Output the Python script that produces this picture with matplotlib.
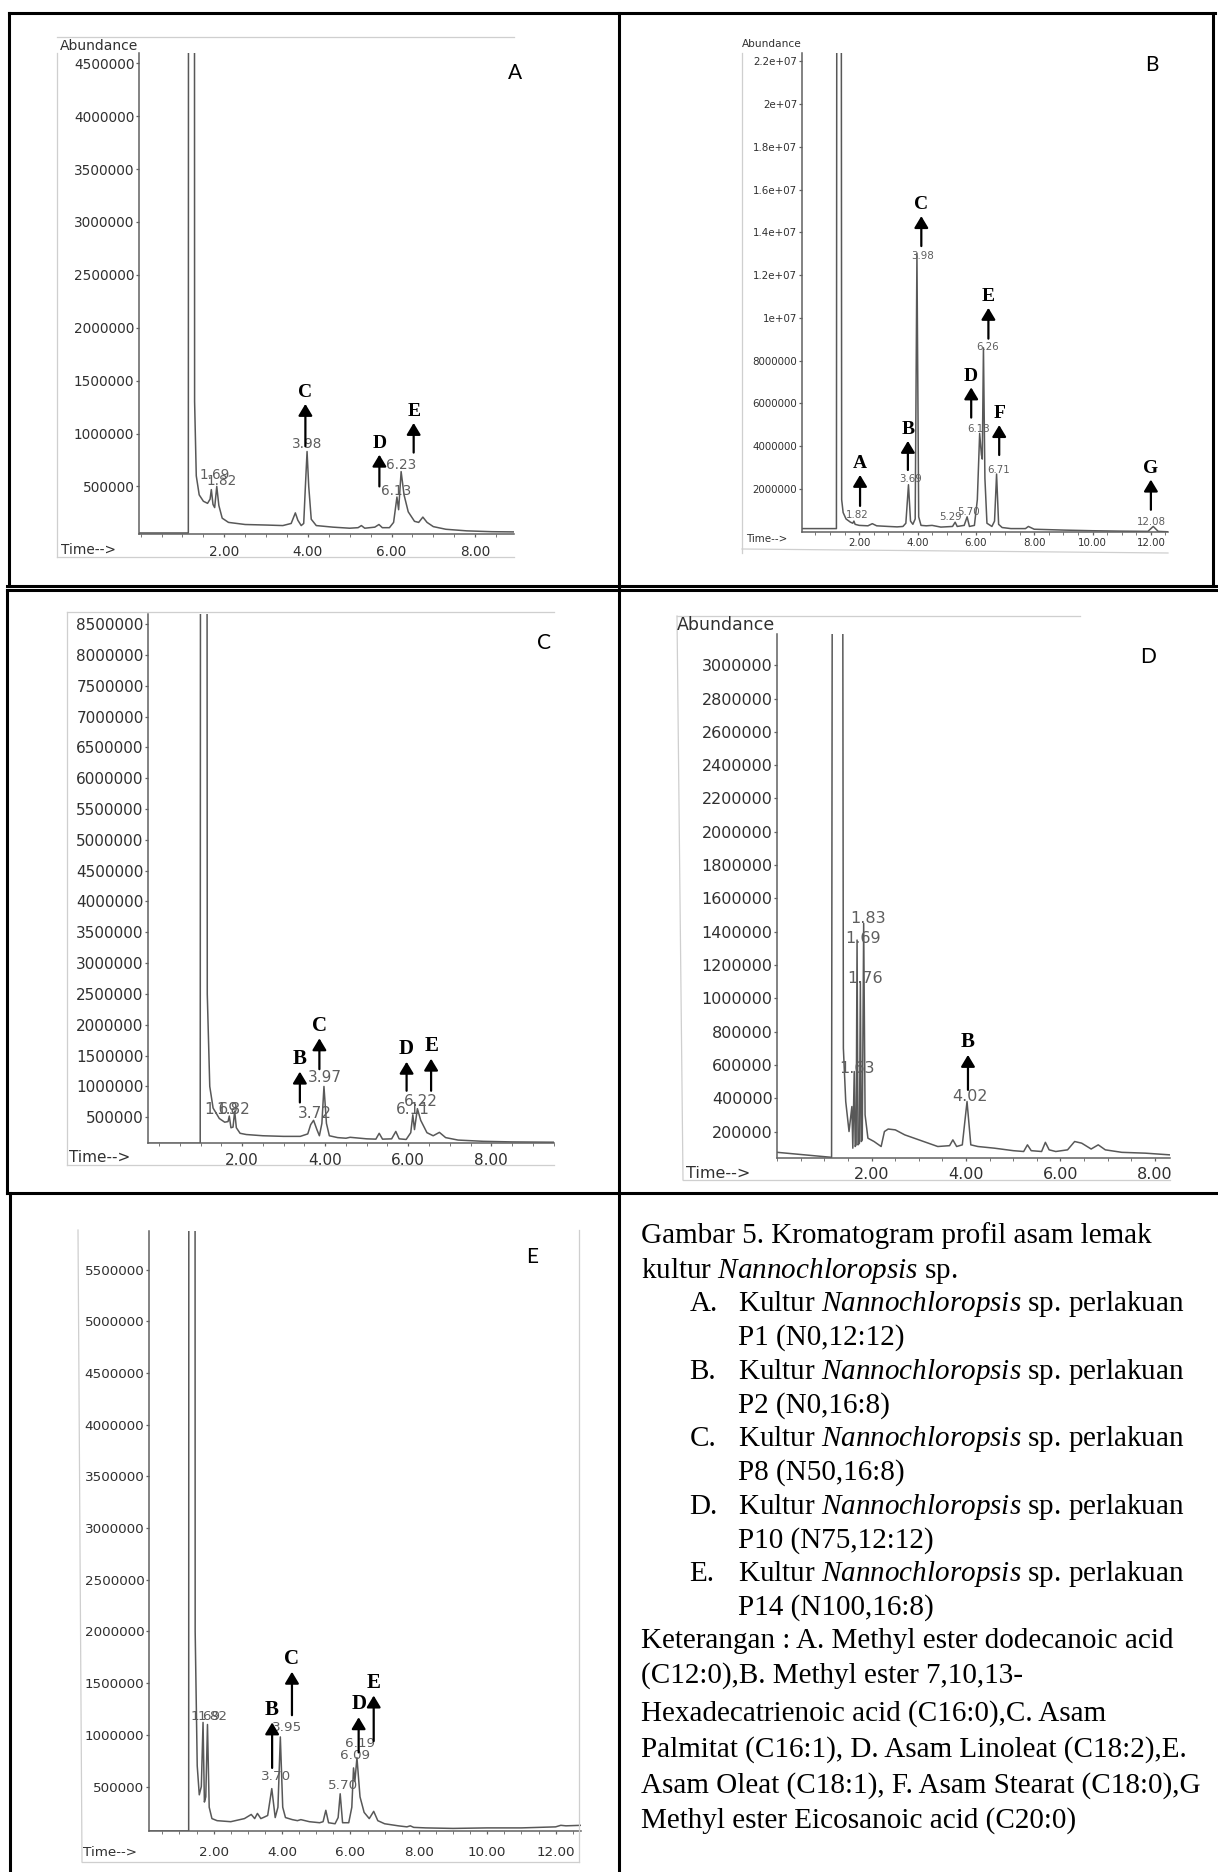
import matplotlib
matplotlib.use("Agg")
import matplotlib.pyplot as plt
from matplotlib.lines import Line2D
from matplotlib.ticker import MultipleLocator

W, H = 1218, 1872
plt.rcParams["mathtext.fontset"] = "custom"
plt.rcParams["mathtext.rm"] = "Liberation Serif"
plt.rcParams["mathtext.it"] = "Liberation Serif:italic"

# ---- chromatogram traces (time in minutes, abundance) ----
time_a = [-0.04, 1.14, 1.16, 1.27, 1.29, 1.33, 1.40, 1.50, 1.60, 1.66, 1.69, 1.73, 1.77, 1.82, 1.87,
          1.95, 2.10, 2.50, 3.00, 3.40, 3.60, 3.70, 3.76, 3.84, 3.90, 3.94, 3.98, 4.02, 4.08, 4.20,
          4.60, 5.00, 5.20, 5.28, 5.36, 5.60, 5.70, 5.78, 5.95, 6.05, 6.13, 6.17, 6.23, 6.30, 6.40,
          6.55, 6.65, 6.75, 6.85, 7.00, 7.30, 7.80, 8.40, 8.93]
abund_a = [60000, 60000, 3e7, 3e7, 1.3e6, 600000, 420000, 360000, 340000, 380000, 470000, 330000,
           300000, 500000, 320000, 200000, 160000, 140000, 135000, 130000, 150000, 250000, 180000,
           130000, 150000, 500000, 830000, 500000, 190000, 130000, 115000, 105000, 110000, 130000,
           105000, 115000, 140000, 110000, 110000, 160000, 400000, 280000, 640000, 420000, 260000,
           170000, 160000, 210000, 160000, 120000, 95000, 80000, 72000, 70000]

time_b = [0.04, 1.22, 1.24, 1.38, 1.40, 1.45, 1.55, 1.70, 1.78, 1.82, 1.86, 2.00, 2.30, 2.45, 2.60,
          3.00, 3.30, 3.50, 3.60, 3.69, 3.76, 3.84, 3.92, 3.98, 4.04, 4.12, 4.30, 4.50, 4.80, 5.20,
          5.29, 5.36, 5.60, 5.70, 5.78, 5.95, 6.05, 6.13, 6.19, 6.22, 6.26, 6.31, 6.38, 6.55, 6.64,
          6.71, 6.78, 6.90, 7.20, 7.70, 7.80, 8.00, 9.00, 10.00, 11.00, 11.90, 12.08, 12.25, 12.60]
abund_b = [150000, 150000, 4e7, 4e7, 1.5e6, 900000, 600000, 450000, 400000, 500000, 350000, 300000,
           280000, 380000, 280000, 250000, 230000, 250000, 400000, 2.2e6, 500000, 350000, 600000,
           13.0e6, 700000, 300000, 280000, 300000, 220000, 250000, 450000, 250000, 300000, 700000,
           250000, 300000, 1.5e6, 4.6e6, 3.6e6, 3.4e6, 8.6e6, 2.5e6, 400000, 250000, 500000, 2.7e6,
           350000, 200000, 150000, 150000, 250000, 120000, 80000, 50000, 30000, 20000, 250000,
           20000, 0]

time_c = [-0.26, 0.99, 1.01, 1.14, 1.16, 1.22, 1.30, 1.45, 1.58, 1.66, 1.69, 1.73, 1.78, 1.82, 1.86,
          1.95, 2.10, 2.50, 3.00, 3.40, 3.58, 3.65, 3.72, 3.80, 3.86, 3.92, 3.97, 4.03, 4.10, 4.30,
          4.50, 4.60, 5.00, 5.22, 5.30, 5.38, 5.60, 5.70, 5.78, 5.95, 6.06, 6.11, 6.15, 6.22, 6.30,
          6.45, 6.60, 6.75, 6.90, 7.20, 7.80, 8.50, 9.50]
abund_c = [76000, 76000, 3e7, 3e7, 2.5e6, 1.0e6, 650000, 480000, 420000, 430000, 520000, 330000,
           340000, 600000, 330000, 240000, 220000, 200000, 190000, 190000, 230000, 380000, 450000,
           300000, 200000, 400000, 1.0e6, 400000, 200000, 170000, 160000, 175000, 150000, 145000,
           240000, 145000, 150000, 270000, 150000, 140000, 250000, 540000, 300000, 640000, 450000,
           250000, 200000, 255000, 170000, 130000, 110000, 100000, 95000]

time_d = [0.0, 1.15, 1.17, 1.38, 1.40, 1.45, 1.52, 1.58, 1.60, 1.63, 1.65, 1.67, 1.69, 1.71, 1.74,
          1.76, 1.78, 1.80, 1.83, 1.86, 1.92, 2.05, 2.20, 2.27, 2.35, 2.50, 2.70, 3.00, 3.40, 3.65,
          3.72, 3.80, 3.92, 4.02, 4.10, 4.25, 4.60, 5.00, 5.22, 5.30, 5.38, 5.60, 5.68, 5.76, 5.90,
          6.15, 6.30, 6.45, 6.65, 6.80, 6.95, 7.30, 7.80, 8.31]
abund_d = [75000, 45000, 5e6, 5e6, 700000, 380000, 200000, 350000, 100000, 560000, 110000, 120000,
           1.35e6, 120000, 130000, 1.1e6, 140000, 150000, 1.45e6, 300000, 160000, 140000, 110000,
           200000, 215000, 210000, 180000, 150000, 110000, 115000, 150000, 110000, 120000, 380000,
           120000, 110000, 100000, 85000, 80000, 120000, 85000, 80000, 135000, 90000, 80000, 90000,
           140000, 130000, 95000, 120000, 90000, 75000, 70000, 60000]

time_e = [0.11, 1.27, 1.29, 1.44, 1.46, 1.52, 1.58, 1.64, 1.69, 1.73, 1.77, 1.82, 1.87, 1.95, 2.10,
          2.50, 2.90, 3.10, 3.20, 3.28, 3.38, 3.45, 3.58, 3.70, 3.80, 3.88, 3.95, 4.02, 4.10, 4.30,
          4.45, 4.55, 4.80, 5.10, 5.20, 5.28, 5.36, 5.55, 5.64, 5.70, 5.77, 5.95, 6.04, 6.09, 6.13,
          6.19, 6.28, 6.40, 6.55, 6.68, 6.80, 7.00, 7.40, 7.65, 7.75, 7.85, 8.20, 9.00, 10.00,
          11.00, 12.00, 12.15, 12.30, 12.75]
abund_e = [70000, 70000, 3e7, 3e7, 2.0e6, 700000, 420000, 500000, 1.12e6, 350000, 400000, 1.1e6,
           300000, 190000, 170000, 160000, 190000, 230000, 190000, 240000, 190000, 200000, 220000,
           480000, 200000, 300000, 980000, 300000, 200000, 180000, 170000, 180000, 160000, 150000,
           160000, 270000, 150000, 140000, 200000, 430000, 150000, 150000, 300000, 680000, 550000,
           780000, 400000, 250000, 190000, 260000, 170000, 140000, 120000, 110000, 120000, 105000,
           100000, 95000, 100000, 100000, 110000, 125000, 120000, 125000]

# ---- axis ticks ----
yticks_a = [500000 * i for i in range(1, 10)]
yticks_b = [2e6, 4e6, 6e6, 8e6, 1e7, 1.2e7, 1.4e7, 1.6e7, 1.8e7, 2e7, 2.2e7]
ylabels_b = ["2000000", "4000000", "6000000", "8000000", "1e+07", "1.2e+07", "1.4e+07",
             "1.6e+07", "1.8e+07", "2e+07", "2.2e+07"]
yticks_c = [500000 * i for i in range(1, 18)]
yticks_d = [200000 * i for i in range(1, 16)]
yticks_e = [500000 * i for i in range(1, 12)]
xticks_short = [2, 4, 6, 8]
xticks_long = [2, 4, 6, 8, 10, 12]

# ---- retention-time labels (text, time, abundance) ----
rt_a = [("1.69", 1.78, 0.61e6), ("1.82", 1.94, 0.55e6), ("3.98", 3.98, 0.90e6),
        ("6.13", 6.12, 0.46e6), ("6.23", 6.22, 0.70e6)]
rt_b = [("1.82", 1.93, 0.80e6), ("3.69", 3.78, 2.49e6), ("3.98", 4.17, 12.9e6),
        ("5.29", 5.13, 0.69e6), ("5.70", 5.74, 0.93e6), ("6.13", 6.09, 4.81e6),
        ("6.26", 6.40, 8.64e6), ("6.71", 6.78, 2.91e6), ("12.08", 12.03, 0.46e6)]
rt_c = [("1.69", 1.49, 0.62e6), ("1.82", 1.78, 0.62e6), ("3.72", 3.74, 0.56e6),
        ("3.97", 3.98, 1.15e6), ("6.11", 6.12, 0.63e6), ("6.22", 6.31, 0.75e6)]
rt_d = [("1.83", 1.92, 1.48e6), ("1.69", 1.81, 1.36e6), ("1.76", 1.86, 1.12e6),
        ("1.63", 1.69, 0.58e6), ("4.02", 4.08, 0.41e6)]
rt_e = [("1.69", 1.78, 1.18e6), ("1.82", 1.98, 1.18e6), ("3.70", 3.81, 0.60e6),
        ("3.95", 4.14, 1.07e6), ("5.70", 5.79, 0.51e6), ("6.09", 6.13, 0.80e6),
        ("6.19", 6.27, 0.92e6)]

# ---- fatty-acid arrows (letter, time, arrow tail, arrow head) ----
marks_a = [("C", 3.94, 0.88e6, 1.28e6), ("D", 5.71, 0.50e6, 0.80e6), ("E", 6.53, 0.82e6, 1.10e6)]
marks_b = [("A", 2.03, 1.21e6, 2.66e6), ("B", 3.67, 2.89e6, 4.25e6), ("C", 4.13, 13.36e6, 14.76e6),
           ("D", 5.84, 5.34e6, 6.75e6), ("E", 6.43, 9.03e6, 10.47e6), ("F", 6.80, 3.59e6, 4.99e6),
           ("G", 12.0, 1.03e6, 2.44e6)]
marks_c = [("B", 3.39, 0.74e6, 1.24e6), ("C", 3.86, 1.28e6, 1.78e6), ("D", 5.96, 0.93e6, 1.40e6),
           ("E", 6.55, 0.93e6, 1.45e6)]
marks_d = [("B", 4.04, 0.45e6, 0.66e6)]
marks_e = [("B", 3.71, 0.68e6, 1.12e6), ("C", 4.29, 1.19e6, 1.61e6), ("D", 6.24, 0.83e6, 1.17e6),
           ("E", 6.68, 0.94e6, 1.38e6)]

caption_lines = [
    ("", "Gambar 5. Kromatogram profil asam lemak"),
    ("", r"kultur $\mathit{Nannochloropsis}$ sp."),
    ("A.", r"Kultur $\mathit{Nannochloropsis}$ sp. perlakuan"),
    ("-", "P1 (N0,12:12)"),
    ("B.", r"Kultur $\mathit{Nannochloropsis}$ sp. perlakuan"),
    ("-", "P2 (N0,16:8)"),
    ("C.", r"Kultur $\mathit{Nannochloropsis}$ sp. perlakuan"),
    ("-", "P8 (N50,16:8)"),
    ("D.", r"Kultur $\mathit{Nannochloropsis}$ sp. perlakuan"),
    ("-", "P10 (N75,12:12)"),
    ("E.", r"Kultur $\mathit{Nannochloropsis}$ sp. perlakuan"),
    ("-", "P14 (N100,16:8)"),
    ("", "Keterangan : A. Methyl ester dodecanoic acid"),
    ("", "(C12:0),B. Methyl ester 7,10,13-"),
    ("", "Hexadecatrienoic acid (C16:0),C. Asam"),
    ("", "Palmitat (C16:1), D. Asam Linoleat (C18:2),E."),
    ("", "Asam Oleat (C18:1), F. Asam Stearat (C18:0),G"),
    ("", "Methyl ester Eicosanoic acid (C20:0)"),
]
caption_y = [1243, 1278, 1311, 1345, 1379, 1413, 1446, 1480, 1514, 1548, 1581, 1615,
             1648, 1683, 1721, 1757, 1793, 1828]

TRACE = "#585858"
AXIS = "#606060"
TICK = "#303030"

fig = plt.figure(figsize=(W / 100, H / 100), dpi=100)


def fx(x):
    return x / W


def fy(y):
    return 1 - y / H


def chromatogram(rect, t, v, xlim, ylim, yticks, ylabels, xticks, fs, xpad, rts, marks, lfs):
    l, top, r, b = rect
    ax = fig.add_axes([fx(l), fy(b), (r - l) / W, (b - top) / H])
    ax.patch.set_visible(False)
    ax.plot(t, v, color=TRACE, lw=1.1)
    ax.set_xlim(xlim)
    ax.set_ylim(ylim)
    for s in ["top", "right"]:
        ax.spines[s].set_visible(False)
    for s in ["left", "bottom"]:
        ax.spines[s].set_color(AXIS)
        ax.spines[s].set_linewidth(1.1)
    ax.set_yticks(yticks)
    ax.set_yticklabels(ylabels if ylabels else [str(int(y)) for y in yticks])
    ax.set_xticks(xticks)
    ax.set_xticklabels([f"{x:.2f}" for x in xticks])
    ax.xaxis.set_minor_locator(MultipleLocator(0.5))
    ax.tick_params(axis="y", labelsize=fs, colors=AXIS, labelcolor=TICK, length=2.5, pad=0.8, width=0.9)
    ax.tick_params(axis="x", labelsize=fs, colors=AXIS, labelcolor=TICK, length=2.5, pad=xpad, width=0.9)
    ax.tick_params(axis="x", which="minor", length=2, colors=AXIS)
    for txt, tt, vv in rts:
        ax.text(tt, vv, txt, ha="center", va="center", fontsize=fs, color="#5e5e5e")
    for let, tt, v0, v1 in marks:
        ax.annotate("", xy=(tt, v1), xytext=(tt, v0),
                    arrowprops=dict(arrowstyle="-|>,head_length=0.5,head_width=0.3", color="k",
                                    lw=1.6, mutation_scale=14, shrinkA=0, shrinkB=0))
        ax.annotate(let, xy=(tt, v1), xytext=(0, 2), textcoords="offset points", ha="center",
                    va="bottom", fontfamily="Liberation Serif", fontweight="bold", fontsize=lfs)
    return ax


chromatogram((139, 52.7, 514, 533.5), time_a, abund_a, (-0.04, 8.93), (55000, 4.6e6), yticks_a, None,
             xticks_short, 9.8, 6.0, rt_a, marks_a, 14)
chromatogram((802, 52.7, 1168.4, 531.8), time_b, abund_b, (0.04, 12.6), (0, 2.24e7), yticks_b,
             ylabels_b, xticks_long, 7.4, 2.0, rt_b, marks_b, 14)
chromatogram((148.3, 614.2, 553.6, 1143.4), time_c, abund_c, (-0.26, 9.5), (76000, 8.66e6), yticks_c,
             None, xticks_short, 11.0, 4.5, rt_c, marks_c, 15)
chromatogram((777.3, 633.6, 1169.5, 1157.5), time_d, abund_d, (0, 8.31), (44000, 3.19e6), yticks_d,
             None, xticks_short, 11.5, 4.5, rt_d, marks_d, 15)
chromatogram((149, 1231.3, 581.3, 1831), time_e, abund_e, (0.11, 12.75), (70000, 5.87e6), yticks_e,
             None, xticks_long, 9.7, 8.5, rt_e, marks_e, 15)

# axis captions printed by the instrument
fig.text(fx(138), fy(46), "Abundance", ha="right", va="center", fontsize=10, color=TICK)
fig.text(fx(802), fy(44), "Abundance", ha="right", va="center", fontsize=7.6, color=TICK)
fig.text(fx(677), fy(625), "Abundance", ha="left", va="center", fontsize=12.5, color=TICK)
fig.text(fx(61), fy(550), "Time-->", ha="left", va="center", fontsize=9.8, color=TICK)
fig.text(fx(746), fy(539), "Time-->", ha="left", va="center", fontsize=7.4, color=TICK)
fig.text(fx(69), fy(1158), "Time-->", ha="left", va="center", fontsize=11, color=TICK)
fig.text(fx(686), fy(1173), "Time-->", ha="left", va="center", fontsize=11.5, color=TICK)
fig.text(fx(83), fy(1852), "Time-->", ha="left", va="center", fontsize=9.7, color=TICK)

# panel letters
for let, x, y in [("A", 515, 73), ("B", 1152, 65), ("C", 544, 643), ("D", 1148, 657), ("E", 532, 1257)]:
    fig.text(fx(x), fy(y), let, ha="center", va="center", fontsize=15, fontfamily=["Lato", "DejaVu Sans"])

# faint edges of the scanned chromatogram prints
scan = dict(color="#cfcfcf", lw=0.9)
for xs, ys in [([57, 514], [37, 37]), ([57, 57], [53, 557]), ([57, 514], [557, 557]),
               ([742, 742], [53, 553]), ([742, 1168], [549, 553]),
               ([67, 67], [612, 1165]), ([67, 554], [612, 612]), ([67, 554], [1165, 1165]),
               ([677, 683], [616, 1180]), ([677, 1080], [616, 616]), ([683, 1170], [1180, 1180]),
               ([78, 82], [1230, 1862]), ([579, 579], [1230, 1862]), ([82, 579], [1862, 1862])]:
    fig.add_artist(Line2D([fx(x) for x in xs], [fy(y) for y in ys], **scan))

# panel borders
border = dict(color="black", lw=2.2)
for xs, ys in [([9, 1215], [13, 13]), ([7, 1217], [586, 586]), ([7, 1217], [590, 590]),
               ([7, 1217], [1193, 1193]), ([9, 9], [13, 586]), ([7, 7], [590, 1193]),
               ([10, 10], [1193, 1872]), ([619, 619], [13, 1872]), ([1213, 1213], [13, 586])]:
    fig.add_artist(Line2D([fx(x) for x in xs], [fy(y) for y in ys], **border))

# caption
for (lab, txt), y in zip(caption_lines, caption_y):
    kw = dict(va="baseline", ha="left", fontsize=21, fontfamily="Liberation Serif", color="black")
    if lab == "":
        fig.text(fx(641), fy(y), txt, **kw)
    else:
        if lab != "-":
            fig.text(fx(689.5), fy(y), lab, **kw)
        fig.text(fx(738), fy(y), txt, **kw)

fig.savefig("out.png", dpi=100)
